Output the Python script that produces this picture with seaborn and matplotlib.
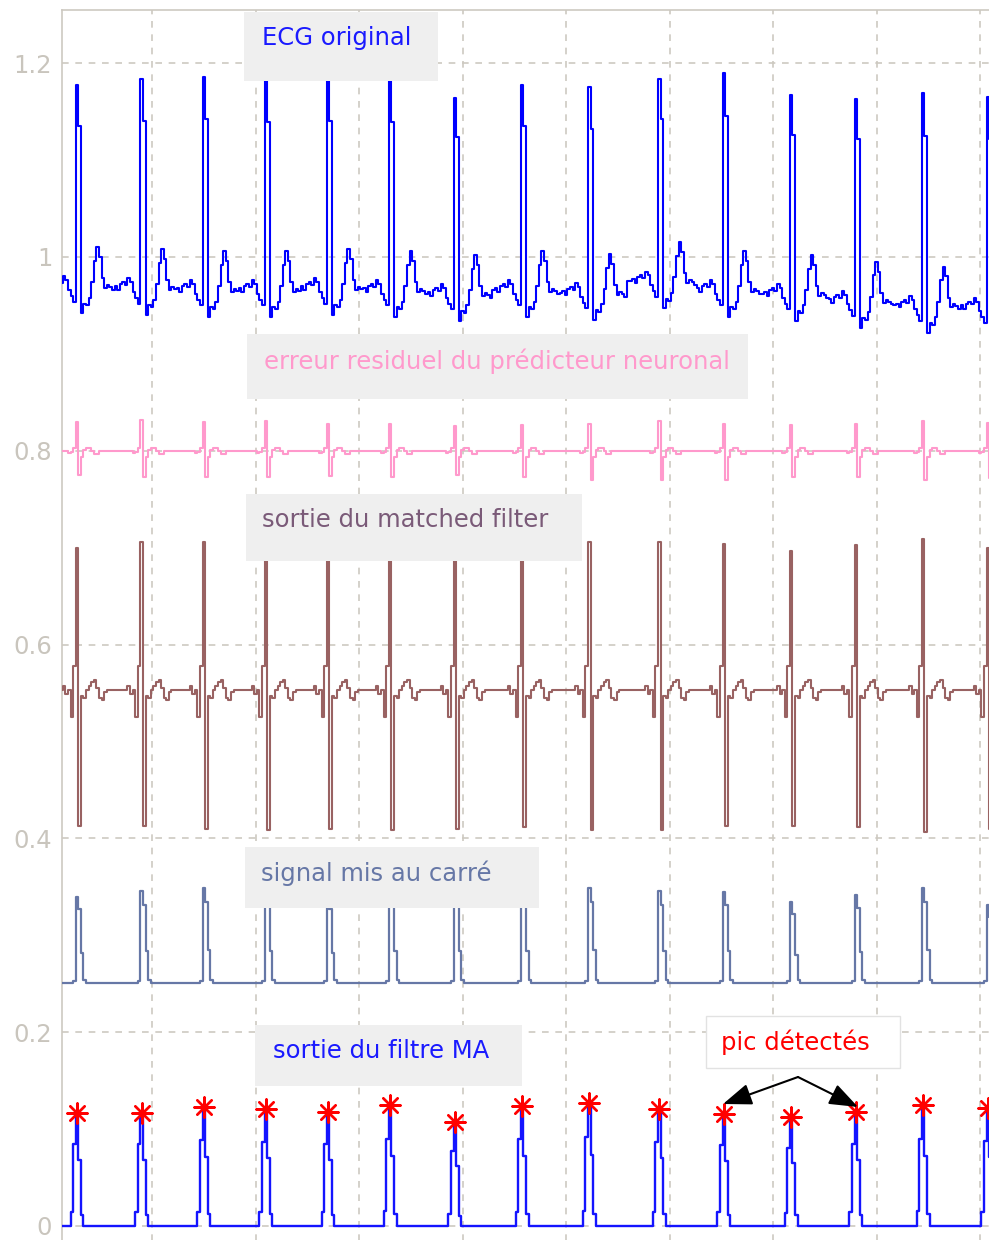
import numpy as np
import pandas as pd
import matplotlib
matplotlib.use("Agg")
import matplotlib.pyplot as plt
from matplotlib.patches import Rectangle
import seaborn as sns

# sample positions of the detected beats (same for every trace)
beat_idx = [11, 36, 60, 84, 108, 132, 157, 183, 209, 236, 261, 287, 312, 338, 363]

# ECG original: baseline level and R-peak value of each beat
ecg_base = [0.970, 0.968, 0.966, 0.966, 0.968, 0.966, 0.962, 0.966,
            0.963, 0.975, 0.966, 0.962, 0.955, 0.950, 0.948]
ecg_peak = [1.177, 1.184, 1.186, 1.183, 1.183, 1.183, 1.164, 1.177,
            1.175, 1.184, 1.190, 1.167, 1.163, 1.169, 1.165]
# one beat around R, offsets in samples -> deviation from baseline
ecg_shape = {-10: 0.002, -9: -0.002, -8: 0.004, -7: 0.006, -6: 0.003,
             -5: 0.010, -4: 0.006, -3: -0.004, -2: -0.010, -1: -0.016,
             2: -0.028, 3: -0.018, 4: -0.020, 5: -0.012, 6: 0.004,
             7: 0.026, 8: 0.040, 9: 0.030, 10: 0.008, 11: -0.002,
             12: 0.001, 13: -0.001, 14: -0.004}

# residual error of the neural predictor
err_base = 0.800
err_up = [0.830, 0.832, 0.830, 0.831, 0.828, 0.828, 0.826, 0.827,
          0.828, 0.831, 0.828, 0.827, 0.828, 0.831, 0.829]
err_down = [0.775, 0.773, 0.773, 0.773, 0.774, 0.773, 0.775, 0.773,
            0.770, 0.770, 0.770, 0.773, 0.773, 0.770, 0.772]
err_shape = {-3: -0.002, -2: -0.001, -1: 0.003, 2: -0.006, 3: 0.001,
             4: 0.003, 5: 0.003, 6: 0.0, 7: -0.003, 8: -0.003}

# matched filter output
mf_base = 0.553
mf_top = [0.700, 0.706, 0.706, 0.700, 0.700, 0.702, 0.700, 0.698,
          0.706, 0.706, 0.704, 0.697, 0.703, 0.709, 0.700]
mf_bottom = [0.413, 0.413, 0.410, 0.409, 0.410, 0.409, 0.410, 0.412,
             0.409, 0.409, 0.413, 0.413, 0.412, 0.407, 0.410]
mf_shape = {-5: 0.004, -4: -0.004, -3: 0.0, -2: -0.028, -1: 0.025,
            2: -0.006, 3: -0.008, 4: 0.0, 5: 0.004, 6: 0.008, 7: 0.010,
            8: 0.002, 9: -0.008, 10: -0.010, 11: -0.002}

# squared signal
sq_base = 0.251
sq_top = [0.340, 0.346, 0.349, 0.345, 0.340, 0.345, 0.345, 0.345,
          0.349, 0.346, 0.345, 0.334, 0.342, 0.349, 0.331]
sq_shape = {-1: 0.02, 0: 1.0, 1: 0.85, 2: 0.35, 3: 0.03}

# moving-average output and detected peaks
ma_peak = [0.117, 0.117, 0.123, 0.121, 0.118, 0.125, 0.107, 0.124,
           0.127, 0.121, 0.116, 0.112, 0.118, 0.125, 0.122]
ma_shape = {-2: 0.12, -1: 0.72, 0: 1.0, 1: 0.58, 2: 0.10}

ytick_vals = [0, 0.2, 0.4, 0.6, 0.8, 1, 1.2]
ytick_labels = ["0", "0.2", "0.4", "0.6", "0.8", "1", "1.2"]

samples = np.arange(5, 369)
beats = np.array(beat_idx)
nearest = np.abs(samples[:, None] - beats[None, :]).argmin(axis=1)


def waveform(base, shape, peaks=None):
    base = np.broadcast_to(np.asarray(base, dtype=float), beats.shape)
    sig = base[nearest].copy()
    for b, pos in enumerate(beats):
        vals = {k: base[b] + v for k, v in shape.items()}
        if peaks:
            vals.update({k: p[b] for k, p in peaks.items()})
        for off, v in vals.items():
            i = pos + off - samples[0]
            if 0 <= i < len(sig):
                sig[i] = v
    return sig


def pulse(base, shape, tops):
    heights = np.asarray(tops) - base
    sig = np.full(len(samples), base, dtype=float)
    for b, pos in enumerate(beats):
        for off, f in shape.items():
            i = pos + off - samples[0]
            if 0 <= i < len(sig):
                sig[i] = base + f * heights[b]
    return sig


ecg_tail = [b + 0.8 * (p - b) for b, p in zip(ecg_base, ecg_peak)]
traces = {
    "ecg": waveform(ecg_base, ecg_shape, {0: ecg_peak, 1: ecg_tail}),
    "err": waveform(err_base, err_shape, {0: err_up, 1: err_down}),
    "mf": waveform(mf_base, mf_shape, {0: mf_top, 1: mf_bottom}),
    "sq": pulse(sq_base, sq_shape, sq_top),
    "ma": pulse(0.0, ma_shape, ma_peak),
}
colors = {"ecg": "#0000ff", "err": "#ff99cc", "mf": "#996262",
          "sq": "#6677a6", "ma": "#1414ff"}
widths = {"ecg": 1.5, "err": 1.5, "mf": 1.5, "sq": 1.6, "ma": 1.7}

df = pd.concat([pd.DataFrame({"sample": samples, "value": v, "signal": k})
                for k, v in traces.items()], ignore_index=True)

sns.set_style("white")
plt.rcParams["font.family"] = ["DejaVu Sans"]

W, H = 989, 1240
fig = plt.figure(figsize=(W / 100, H / 100), dpi=100)
ax = fig.add_axes([62 / W, -10 / H, (1000 - 62) / W, 1240 / H])

for name in traces:
    sns.lineplot(data=df[df["signal"] == name], x="sample", y="value",
                 color=colors[name], linewidth=widths[name], estimator=None,
                 drawstyle="steps-mid", legend=False, ax=ax, zorder=3)

sns.scatterplot(x=beat_idx, y=ma_peak, marker=(8, 2, 0), s=210,
                color="red", linewidth=1.7, legend=False, ax=ax, zorder=6)

ax.set_xlim(5.2, 367.7)
ax.set_ylim(-0.0248, 1.2549)
ax.set_xticks(np.arange(40, 361, 40))
ax.set_xticklabels([])
ax.set_yticks(ytick_vals)
ax.set_yticklabels(ytick_labels)
ax.set_xlabel("")
ax.set_ylabel("")
grid_col = "#cdc9c1"
ax.grid(True, color=grid_col, linestyle=(0, (4, 4)), linewidth=1.2, zorder=1)
ax.set_axisbelow(True)
ax.tick_params(length=0, labelsize=17.5, labelcolor="#c9c5bd", pad=7)
for side in ["left", "top"]:
    ax.spines[side].set_color(grid_col)
    ax.spines[side].set_linewidth(1.2)
for side in ["right", "bottom"]:
    ax.spines[side].set_visible(False)


def fig_box(x0, y0, x1, y1, face="#efefef", edge="none"):
    ax.add_patch(Rectangle((x0 / W, 1 - y1 / H), (x1 - x0) / W, (y1 - y0) / H,
                           transform=fig.transFigure, facecolor=face,
                           edgecolor=edge, linewidth=1, zorder=5))


def fig_text(x, y, s, color):
    ax.text(x / W, 1 - y / H, s, transform=fig.transFigure, color=color,
            fontsize=17.5, ha="left", va="baseline", zorder=7)


fig_box(244, 12, 438, 81)
fig_text(262, 45, "ECG original", "#1a1aff")
fig_box(247, 334, 748, 399)
fig_text(264, 369, "erreur residuel du prédicteur neuronal", "#ff99cc")
fig_box(246, 494, 582, 561)
fig_text(262, 527, "sortie du matched filter", "#7a5a78")
fig_box(245, 847, 539, 908)
fig_text(261, 881, "signal mis au carré", "#6677a6")
fig_box(255, 1025, 522, 1086)
fig_text(273, 1058, "sortie du filtre MA", "#1a1aff")
fig_box(706, 1016, 900, 1068, face="white", edge="#e2e2e2")
fig_text(721, 1050, "pic détectés", "#ff0000")

for tip in [(723, 1104), (858, 1107)]:
    ax.annotate("", xy=(tip[0] / W, 1 - tip[1] / H),
                xytext=(798 / W, 1 - 1077 / H),
                xycoords=fig.transFigure, textcoords=fig.transFigure,
                arrowprops=dict(arrowstyle="-|>,head_length=0.8,head_width=0.3",
                                color="black", lw=1.5, mutation_scale=22,
                                shrinkA=0, shrinkB=0),
                zorder=8)

fig.savefig("out.png", dpi=100)
